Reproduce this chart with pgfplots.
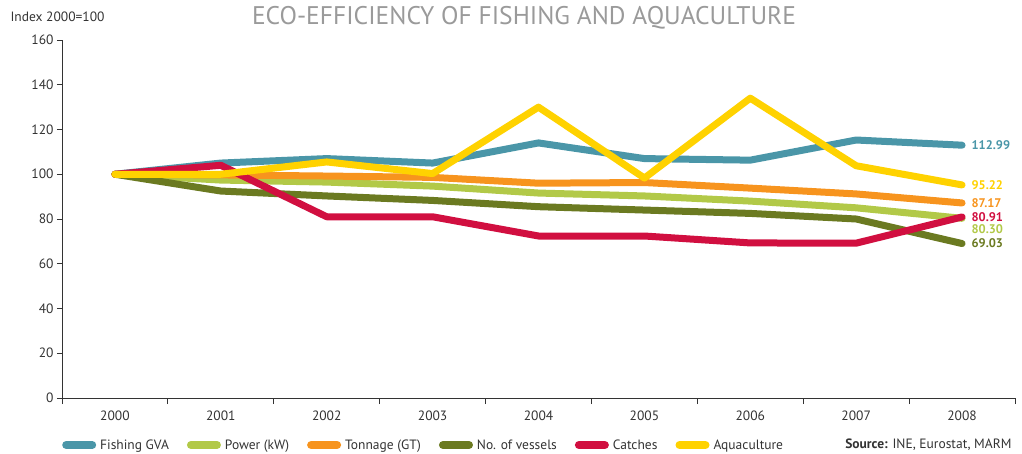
\documentclass[border=0pt]{standalone}
\usepackage{fontspec}
\setmainfont{PT Sans}
\usepackage{pgfplots}
\pgfplotsset{compat=1.18}

\definecolor{gva}{HTML}{4A96A8}
\definecolor{power}{HTML}{B2C948}
\definecolor{tonnage}{HTML}{F7941E}
\definecolor{vessels}{HTML}{6B7A21}
\definecolor{catches}{HTML}{D10F40}
\definecolor{aqua}{HTML}{FFD200}
\definecolor{axisgray}{HTML}{333333}
\definecolor{titlegray}{HTML}{9A9A9A}

\begin{document}
\begin{tikzpicture}[font=\fontsize{13.5}{15}\selectfont]
\path[use as bounding box] (-62pt,-55pt) rectangle (960pt,398pt);
\begin{axis}[
    at={(0,0)}, anchor=south west,
    scale only axis,
    width=953pt, height=358pt,
    xmin=-0.5, xmax=8.5,
    ymin=0, ymax=160,
    axis x line*=bottom,
    axis y line*=left,
    axis line style={-, draw=axisgray, line width=0.8pt},
    xtick={0,...,8},
    xticklabels={2000,2001,2002,2003,2004,2005,2006,2007,2008},
    minor xtick={-0.5,0.5,...,8.5},
    major x tick style={draw=none},
    ytick={0,20,...,160},
    tick align=outside,
    major tick length=5pt,
    minor tick length=6pt,
    tick style={draw=axisgray, line width=0.8pt},
    ticklabel style={font=\fontsize{13.5}{15}\selectfont, text=axisgray},
    xticklabel style={yshift=-4pt},
    /pgf/number format/assume math mode=true,
    every axis plot/.append style={line width=7pt, line join=round, line cap=round},
    legend columns=6,
    legend style={at={(0,0)}, anchor=west, yshift=-47pt, draw=none, fill=none,
        inner sep=0pt, font=\fontsize{13.5}{15}\selectfont, text=axisgray,
        /tikz/every odd column/.append style={column sep=2pt},
        /tikz/every even column/.append style={column sep=16pt}},
    legend image code/.code={\draw[line width=8pt, line cap=round] (4pt,0) -- (30pt,0);},
]
\addplot[gva] coordinates {(0,100) (1,105) (2,107) (3,105) (4,114) (5,107) (6,106.3) (7,115.3) (8,112.99)};
\addlegendentry{Fishing GVA}
\addplot[power] coordinates {(0,100) (1,97.4) (2,96.5) (3,94.7) (4,91.6) (5,90.3) (6,88) (7,85) (8,80.30)};
\addlegendentry{Power (kW)}
\addplot[tonnage] coordinates {(0,100) (1,99.7) (2,99.2) (3,98.6) (4,96) (5,96.3) (6,93.8) (7,91.2) (8,87.17)};
\addlegendentry{Tonnage (GT)}
\addplot[vessels] coordinates {(0,100) (1,92.5) (2,90.3) (3,88.3) (4,85.5) (5,84) (6,82.5) (7,80) (8,69.03)};
\addlegendentry{No. of vessels}
\addplot[catches] coordinates {(0,100) (1,104) (2,81) (3,81) (4,72.4) (5,72.4) (6,69.3) (7,69.2) (8,80.91)};
\addlegendentry{Catches}
\addplot[aqua] coordinates {(0,100) (1,100) (2,105.5) (3,100.3) (4,130) (5,98.3) (6,134) (7,103.8) (8,95.22)};
\addlegendentry{Aquaculture}

\begin{scope}[every node/.style={anchor=west, xshift=6pt, font=\fontsize{12.5}{15}\selectfont\bfseries}]
\node[text=gva] at (axis cs:8,113) {112.99};
\node[text=aqua] at (axis cs:8,95.2) {95.22};
\node[text=tonnage] at (axis cs:8,87.2) {87.17};
\node[text=catches] at (axis cs:8,81) {80.91};
\node[text=power] at (axis cs:8,75.3) {80.30};
\node[text=vessels] at (axis cs:8,69) {69.03};
\end{scope}
\end{axis}
\node[anchor=west, text=axisgray] at (-55pt,381pt) {Index 2000=100};
\node[text=titlegray, font=\fontsize{25.5}{28}\selectfont] at (462pt,380pt) {ECO-EFFICIENCY OF FISHING AND AQUACULTURE};
\node[anchor=east, text=axisgray] at (953pt,-47pt) {\textbf{Source:} INE, Eurostat, MARM};
\end{tikzpicture}
\end{document}
